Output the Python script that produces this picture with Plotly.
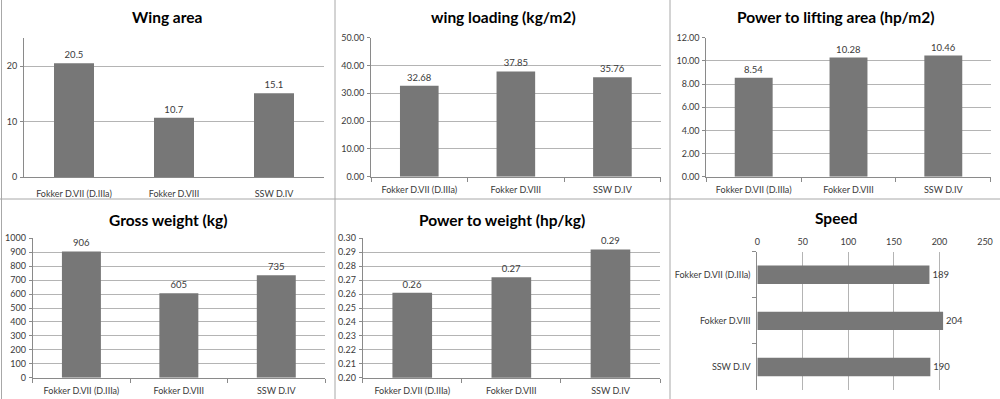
import plotly.graph_objects as go

# ---- data ----
aircraft = ["Fokker D.VII (D.IIIa)", "Fokker D.VIII", "SSW D.IV"]
wing_area = [20.5, 10.7, 15.1]
wing_loading = [32.68, 37.85, 35.76]
power_lifting = [8.54, 10.28, 10.46]
gross_weight = [906, 605, 735]
power_weight = [0.261, 0.272, 0.292]
speed = [189, 204, 190]

titles = ["Wing area", "wing loading (kg/m2)", "Power to lifting area (hp/m2)",
          "Gross weight (kg)", "Power to weight (hp/kg)", "Speed"]

W, H = 1000, 399
FONT = "Lato, 'Open Sans', sans-serif"
BAR = "#777777"
GRID = "#b4b4b4"
AXIS = "#8a8a8a"
TXT = "#3a3a3a"


def px(x):
    return x / W


def py(y):
    return 1 - y / H


fig = go.Figure()

# panel definitions
panels = [
    (wing_area, (24, 324), (38.3, 177), (0, 25), 10, "", "%{y:.1f}", False),
    (wing_loading, (371, 660.7), (37.7, 176.7), (0, 50), 10, ".2f", "%{y:.2f}", True),
    (power_lifting, (706.3, 990.7), (37.7, 176.7), (0, 12), 2, ".2f", "%{y:.2f}", True),
    (gross_weight, (32.7, 325), (238.3, 377.7), (0, 1000), 100, "", "%{y:.0f}", True),
    (power_weight, (362.7, 660), (238.3, 377.7), (0.2, 0.3), 0.01, ".2f", "%{y:.2f}", True),
]

tickfont = dict(family=FONT, size=9, color=TXT)
labelfont = dict(family=FONT, size=9.5, color=TXT)

for i, (vals, xd, yd, rng, dt, tf, tt, catticks) in enumerate(panels, start=1):
    xa = "x" if i == 1 else f"x{i}"
    ya = "y" if i == 1 else f"y{i}"
    fig.add_trace(go.Bar(
        x=aircraft, y=vals, xaxis=xa, yaxis=ya,
        marker=dict(color=BAR, line=dict(width=0)),
        texttemplate=tt, textposition="outside", cliponaxis=False,
        textfont=labelfont, showlegend=False,
    ))
    xk = "xaxis" if i == 1 else f"xaxis{i}"
    yk = "yaxis" if i == 1 else f"yaxis{i}"
    fig.layout[xk] = dict(
        domain=[px(xd[0]), px(xd[1])], anchor=ya, type="category",
        showline=True, linecolor=AXIS, linewidth=1,
        ticks="outside" if catticks else "", tickson="boundaries", ticklen=4,
        tickcolor=AXIS, tickfont=tickfont, showgrid=False, fixedrange=True,
        automargin=False, ticklabelstandoff=4 if catticks else 8,
    )
    fig.layout[yk] = dict(
        domain=[py(yd[1]), py(yd[0])], anchor=xa, range=list(rng), dtick=dt,
        tick0=rng[0], tickformat=tf,
        showline=True, linecolor=AXIS, linewidth=1, ticks="outside", ticklen=3,
        tickcolor=AXIS, tickfont=tickfont, showgrid=True, gridcolor=GRID,
        gridwidth=1, zeroline=False, fixedrange=True, automargin=False,
        ticklabelstandoff=1,
    )

fig.update_layout(bargap=0.6)

# panel 6: horizontal bars
fig.add_trace(go.Bar(
    x=speed, y=aircraft, orientation="h", xaxis="x6", yaxis="y6",
    marker=dict(color=BAR, line=dict(width=0)),
    texttemplate="%{x:.0f}", textposition="outside", cliponaxis=False,
    textfont=labelfont, showlegend=False,
))
fig.layout["xaxis6"] = dict(
    domain=[px(757.3), px(985)], anchor="y6", side="top", range=[0, 250], dtick=50,
    showline=False, ticks="", tickfont=tickfont, showgrid=True, gridcolor=GRID,
    zeroline=False, fixedrange=True, automargin=False, ticklabelstandoff=4,
)
fig.layout["yaxis6"] = dict(
    domain=[py(390), py(251.7)], anchor="x6", type="category", autorange="reversed",
    showline=True, linecolor=AXIS, linewidth=1, ticks="outside", tickson="boundaries",
    ticklen=4, tickcolor=AXIS, tickfont=tickfont, showgrid=False, fixedrange=True,
    automargin=False, ticklabelstandoff=4,
)

# titles
title_pos = [(167, 17), (503, 17), (836, 17), (168, 220), (502, 220), (836, 218)]
for t, (tx, ty) in zip(titles, title_pos):
    fig.add_annotation(
        text=f"<b>{t}</b>", x=px(tx), y=py(ty), xref="paper", yref="paper",
        xanchor="center", yanchor="middle", showarrow=False,
        font=dict(family=FONT, size=15.5, color="#000000"),
    )

# panel borders
BORDER = "#a8a8a8"
for x in (1.5, 335, 670):
    fig.add_shape(type="line", xref="paper", yref="paper", x0=px(x), x1=px(x), y0=0, y1=1,
                  line=dict(color=BORDER, width=1))
fig.add_shape(type="line", xref="paper", yref="paper", x0=0, x1=1, y0=py(199), y1=py(199),
              line=dict(color=BORDER, width=1))

fig.update_layout(
    width=W, height=H, margin=dict(l=0, r=0, t=0, b=0, autoexpand=False),
    paper_bgcolor="white", plot_bgcolor="white",
    font=dict(family=FONT, color=TXT),
)

fig.write_html(
    "out.html", config={"displayModeBar": False},
    post_script="document.body.style.margin='0';document.body.style.overflow='hidden';",
)
